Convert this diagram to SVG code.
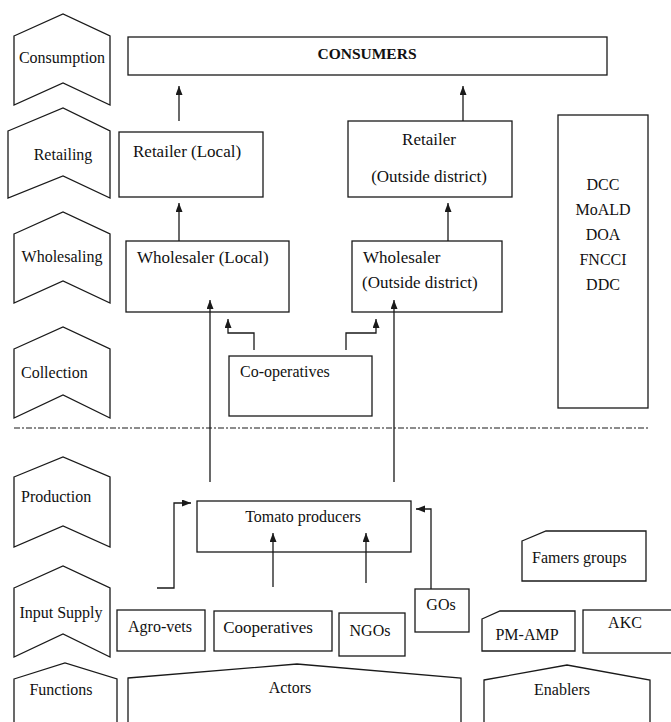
<svg xmlns="http://www.w3.org/2000/svg" width="671" height="722" viewBox="0 0 671 722" font-family="'Liberation Serif', 'DejaVu Serif', serif">
<defs>
<marker id="arr" markerUnits="userSpaceOnUse" markerWidth="10" markerHeight="8" refX="9" refY="3.5" orient="auto">
<path d="M0,0 L9,3.5 L0,7 z" fill="#1a1a1a"/>
</marker>
<style>
.s{fill:#fff;stroke:#1a1a1a;stroke-width:1.3}
text{font-family:'Liberation Serif','DejaVu Serif',serif;fill:#111}
.t{font-size:17px}
.l{font-size:16px}
.c{stroke:#1a1a1a;stroke-width:1.3;fill:none;marker-end:url(#arr)}
.m{text-anchor:middle}
</style>
</defs>
<rect width="671" height="722" fill="#fff"/>

<g id="stages">
<g id="stage-consumption"><polygon class="s" points="14,36 63,14 110,36 110,105 63,83 14,105"/><text class="l m" x="62" y="63" font-size="15">Consumption</text></g>
<g id="stage-retailing"><polygon class="s" points="8,131 63,108 110,131 110,198 63,176 8,198"/><text class="l m" x="63" y="160">Retailing</text></g>
<g id="stage-wholesaling"><polygon class="s" points="14,234 63,212 110,234 110,303 63,281 14,303"/><text class="l m" x="62" y="262">Wholesaling</text></g>
<g id="stage-collection"><polygon class="s" points="14,349 63,327 110,349 110,418 63,395 14,418"/><text class="l" x="21" y="378">Collection</text></g>
<g id="stage-production"><polygon class="s" points="14,477 63,457 110,477 110,547 63,526 14,547"/><text class="l" x="21" y="502">Production</text></g>
<g id="stage-input"><polygon class="s" points="14,588 63,566 110,588 110,657 63,634 14,657"/><text class="l m" x="61" y="618">Input Supply</text></g>
<g id="stage-functions"><polygon class="s" points="14,679 65,663 117,679 117,730 14,730"/><text class="l m" x="61" y="695">Functions</text></g>
</g>

<line x1="14" y1="428" x2="650" y2="428" stroke="#1a1a1a" stroke-width="1.2" stroke-dasharray="6 2 2 2"/>

<g id="consumers"><rect class="s" x="128" y="37" width="479" height="38"/><text class="t m" x="367" y="59" font-weight="bold" style="font-size:15.5px">CONSUMERS</text></g>
<g id="retailer-local"><rect class="s" x="119" y="132" width="144" height="65"/><text class="t" x="133" y="157">Retailer (Local)</text></g>
<g id="retailer-outside"><rect class="s" x="348" y="121" width="164" height="76"/><text class="t m" x="429" y="145">Retailer</text><text class="t m" x="429" y="182">(Outside district)</text></g>
<g id="wholesaler-local"><rect class="s" x="126" y="241" width="163" height="71"/><text class="t" x="137" y="263">Wholesaler (Local)</text></g>
<g id="wholesaler-outside"><rect class="s" x="352" y="241" width="150" height="71"/><text class="t" x="363" y="263">Wholesaler</text><text class="t" x="362" y="288">(Outside district)</text></g>
<g id="co-operatives"><rect class="s" x="229" y="356" width="143" height="60"/><text class="l" x="240" y="377">Co-operatives</text></g>
<g id="enablers-list"><rect class="s" x="558" y="115" width="90" height="293"/>
<text class="l m" x="603" y="190">DCC</text><text class="l m" x="603" y="215">MoALD</text><text class="l m" x="603" y="240">DOA</text><text class="l m" x="603" y="265">FNCCI</text><text class="l m" x="603" y="290">DDC</text></g>
<g id="tomato-producers"><rect class="s" x="197" y="501" width="214" height="51"/><text class="l m" x="303" y="522">Tomato producers</text></g>
<g id="agro-vets"><rect class="s" x="117" y="610" width="88" height="41"/><text class="l m" x="160" y="632">Agro-vets</text></g>
<g id="cooperatives"><rect class="s" x="214" y="611" width="118" height="40"/><text class="t m" x="268" y="633">Cooperatives</text></g>
<g id="ngos"><rect class="s" x="339" y="613" width="66" height="43"/><text class="l m" x="370" y="636">NGOs</text></g>
<g id="gos"><rect class="s" x="415" y="589" width="54" height="43"/><text class="l m" x="441" y="610">GOs</text></g>
<g id="famers-groups"><polygon class="s" points="522,541 546,531 646,531 646,581 522,581"/><text class="l" x="532" y="563">Famers groups</text></g>
<g id="pm-amp"><polygon class="s" points="482,619 500,611 575,611 575,651 482,651"/><text class="l m" x="527" y="640">PM-AMP</text></g>
<g id="akc"><rect class="s" x="583" y="610" width="92" height="43"/><text class="l m" x="625" y="628" font-size="15">AKC</text></g>
<g id="actors"><polygon class="s" points="128,678 297,664 461,678 461,730 128,730"/><text class="l m" x="290" y="693">Actors</text></g>
<g id="enablers"><polygon class="s" points="484,680 567,665 650,680 650,730 484,730"/><text class="l m" x="562" y="695">Enablers</text></g>

<g id="connectors">
<path class="c" d="M179,121 V86"/>
<path class="c" d="M463,121 V86"/>
<path class="c" d="M179,241 V203"/>
<path class="c" d="M448,241 V203"/>
<path class="c" d="M254,350 V333 H228 V319"/>
<path class="c" d="M346,350 V333 H376 V319"/>
<path class="c" d="M210,482 V300"/>
<path class="c" d="M394,482 V300"/>
<path class="c" d="M157,588 H174 V503 H191"/>
<path class="c" d="M431,589 V509 H416"/>
<path class="c" d="M273,587 V533"/>
<path class="c" d="M366,583 V533"/>
</g>
</svg>
